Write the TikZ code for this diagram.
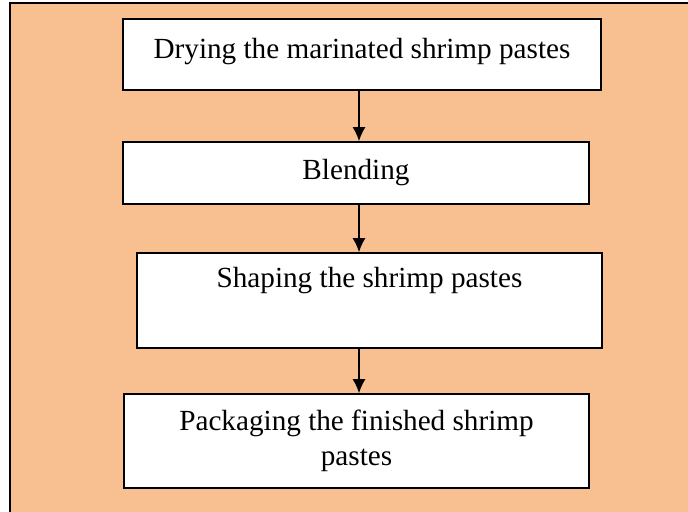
\documentclass[tikz,border=0pt]{standalone}
\usepackage{fontspec}
\setmainfont{Liberation Serif}
\usetikzlibrary{arrows.meta}
\definecolor{peach}{RGB}{248,192,144}
\tikzset{
  stepbox/.style={draw, thick, fill=white, align=center, inner sep=0pt,
    font=\fontsize{14.6}{17.5}\selectfont},
  flow/.style={-{Latex[length=7pt,width=6.5pt]}, thick}
}
\begin{document}
\begin{tikzpicture}[x=0.5pt,y=-0.5pt]
        \def\xA{359}
        \useasboundingbox (0,0) rectangle (688,512);
        % background panel
        \fill[peach] (10,3) rectangle (700,520);
        \draw[thick] (10,520) -- (10,3) -- (700,3);
        % process steps
        \node[stepbox, minimum width=239pt, minimum height=35.5pt] (dry) at (362,54.5) {Drying the marinated shrimp pastes\\[-11pt]};
        \node[stepbox, minimum width=233pt, minimum height=31pt] (blend) at (356,173) {Blending};
        \node[stepbox, minimum width=232.5pt, minimum height=47.5pt] (shape) at (369.5,300.5) {Shaping the shrimp pastes\\ \strut};
        \node[stepbox, minimum width=232.5pt, minimum height=47pt] (pack) at (356.5,441) {Packaging the finished shrimp\\ pastes};
        % arrows
        \draw[flow] (dry.south -| \xA,0) -- (blend.north -| \xA,0);
        \draw[flow] (blend.south -| \xA,0) -- (shape.north -| \xA,0);
        \draw[flow] (shape.south -| \xA,0) -- (pack.north -| \xA,0);
\end{tikzpicture}
\end{document}
